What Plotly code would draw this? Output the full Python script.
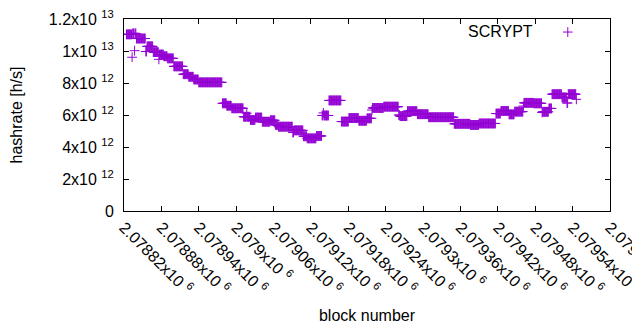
import plotly.graph_objects as go

# step segments: first block, last block, hashrate (x1e12 h/s)
seg_start = [2078824, 2078833, 2078834, 2078837, 2078838, 2078840, 2078855, 2078857, 2078867, 2078876,
             2078877, 2078884, 2078890, 2078900, 2078915, 2078924, 2078932, 2078940, 2078978, 2078985,
             2078993, 2079012, 2079017, 2079018, 2079023, 2079031, 2079042, 2079055, 2079063, 2079068,
             2079091, 2079093, 2079108, 2079114, 2079129, 2079138, 2079140, 2079141, 2079149, 2079169,
             2079181, 2079197, 2079210, 2079218, 2079219, 2079237, 2079261, 2079263, 2079275, 2079291,
             2079309, 2079350, 2079376, 2079390, 2079417, 2079425, 2079438, 2079447, 2079461, 2079462,
             2079478, 2079491, 2079492, 2079502, 2079507, 2079523, 2079531, 2079533, 2079546]
seg_end = [2078832, 2078833, 2078836, 2078837, 2078839, 2078854, 2078856, 2078866, 2078875, 2078876,
           2078883, 2078889, 2078899, 2078914, 2078923, 2078931, 2078939, 2078977, 2078984, 2078992,
           2079011, 2079016, 2079017, 2079022, 2079030, 2079041, 2079054, 2079062, 2079067, 2079090,
           2079092, 2079107, 2079113, 2079128, 2079137, 2079139, 2079140, 2079148, 2079168, 2079180,
           2079196, 2079209, 2079217, 2079218, 2079236, 2079260, 2079262, 2079274, 2079290, 2079308,
           2079349, 2079375, 2079389, 2079416, 2079424, 2079437, 2079446, 2079460, 2079461, 2079477,
           2079490, 2079491, 2079501, 2079506, 2079522, 2079530, 2079532, 2079545, 2079546]
seg_value_e12 = [11.04, 9.61, 11.10, 10.02, 11.10, 10.78, 9.97, 10.29, 9.93, 9.48,
                 9.78, 9.67, 9.54, 9.04, 8.55, 8.39, 8.22, 8.04, 6.73, 6.58,
                 6.42, 5.89, 6.11, 5.89, 5.69, 5.84, 5.58, 5.67, 5.38, 5.27,
                 4.91, 5.04, 4.67, 4.54, 4.69, 5.97, 6.13, 5.97, 6.91, 5.59,
                 5.81, 5.64, 5.79, 6.31, 6.44, 6.52, 6.00, 5.93, 6.24, 6.05,
                 5.86, 5.45, 5.38, 5.47, 6.09, 6.25, 6.04, 6.21, 6.56, 6.76,
                 6.73, 6.16, 6.20, 6.41, 7.30, 7.10, 6.75, 7.30, 6.98]

x_tickvals = [2078820, 2078880, 2078940, 2079000, 2079060, 2079120, 2079180,
              2079240, 2079300, 2079360, 2079420, 2079480, 2079540, 2079600]
x_ticktext = ["2.07882x10 <sup>6</sup>", "2.07888x10 <sup>6</sup>", "2.07894x10 <sup>6</sup>",
              "2.079x10 <sup>6</sup>", "2.07906x10 <sup>6</sup>", "2.07912x10 <sup>6</sup>",
              "2.07918x10 <sup>6</sup>", "2.07924x10 <sup>6</sup>", "2.0793x10 <sup>6</sup>",
              "2.07936x10 <sup>6</sup>", "2.07942x10 <sup>6</sup>", "2.07948x10 <sup>6</sup>",
              "2.07954x10 <sup>6</sup>", "2.0796x10 <sup>6</sup>"]
y_tickvals = [0, 2e12, 4e12, 6e12, 8e12, 1e13, 1.2e13]
y_ticktext = ["0", "2x10 <sup>12</sup>", "4x10 <sup>12</sup>", "6x10 <sup>12</sup>",
              "8x10 <sup>12</sup>", "1x10 <sup>13</sup>", "1.2x10 <sup>13</sup>"]

blocks = []
hashrate = []
for s, e, v in zip(seg_start, seg_end, seg_value_e12):
    for b in range(s, e + 1):
        blocks.append(b)
        hashrate.append(v * 1e12)

PURPLE = "#9400D3"
FONT = "Liberation Sans, Arial, sans-serif"
FS = 16

fig = go.Figure()
fig.add_trace(go.Scatter(
    x=blocks, y=hashrate, mode="markers", name=" ",
    marker=dict(symbol="cross-thin", size=7, color=PURPLE,
                line=dict(width=1, color=PURPLE)),
    showlegend=True,
))

axis_common = dict(showline=True, linecolor="black", linewidth=1, mirror="ticks",
                   ticks="inside", ticklen=5, tickcolor="black", tickwidth=1,
                   showgrid=False, zeroline=False, ticklabeloverflow="allow",
                   tickfont=dict(family=FONT, size=FS, color="black"))

fig.update_layout(
    template="none",
    width=640, height=330,
    # the page body adds an 8px offset; margins compensate so the frame lands at 124..610 x 19..211
    margin=dict(l=116, r=38, t=11, b=127, autoexpand=False),
    paper_bgcolor="white", plot_bgcolor="white",
    font=dict(family=FONT, size=FS, color="black"),
    xaxis=dict(range=[2078820, 2079600], tickvals=x_tickvals, ticktext=x_ticktext,
               tickangle=45, automargin=False,
               title=dict(text="block number", standoff=13,
                          font=dict(family=FONT, size=FS, color="black")),
               **axis_common),
    yaxis=dict(range=[0, 1.2e13], tickvals=y_tickvals, ticktext=y_ticktext,
               automargin=False, ticklabelstandoff=6,
               title=dict(text="hashrate [h/s]", standoff=37,
                          font=dict(family=FONT, size=FS, color="black")),
               **axis_common),
    legend=dict(x=0.872, y=1.02, xanchor="left", yanchor="top",
                bgcolor="rgba(0,0,0,0)", font=dict(family=FONT, size=FS)),
    annotations=[dict(text="SCRYPT", xref="paper", yref="paper", x=0.8456, y=0.934,
                      xanchor="right", yanchor="middle", showarrow=False,
                      font=dict(family=FONT, size=FS, color="black"))],
)

fig.write_html("out.html")
